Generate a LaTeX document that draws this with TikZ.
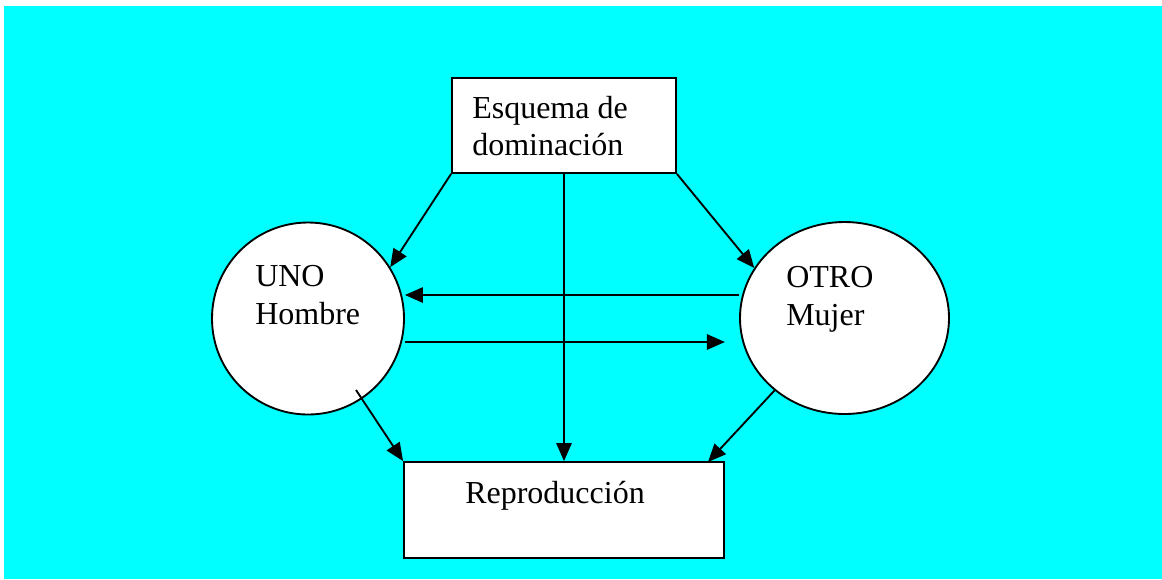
\documentclass[tikz,border=0pt]{standalone}
\usepackage{fontspec}
\setmainfont{Liberation Serif}
\usetikzlibrary{arrows.meta,shapes.geometric}
\definecolor{bgcyan}{RGB}{0,255,255}
\begin{document}
\begin{tikzpicture}[x=0.75pt,y=-0.75pt,
  lw/.style={line width=1.4pt},
  boxnode/.style={draw,lw,fill=white,rectangle,inner sep=0pt},
  circnode/.style={draw,lw,fill=white,ellipse,inner sep=0pt},
  lbl/.style={anchor=base west,inner sep=0pt,font=\fontsize{24}{28}\selectfont},
  arr/.style={lw,-{Triangle[length=13.5pt,width=11.5pt]}},
  conn/.style={lw}]
\useasboundingbox (0,0) rectangle (1162,579);
\fill[bgcyan] (4,6) rectangle (1162,579);
% nodes
\node[boxnode,minimum width=224*0.75pt,minimum height=95*0.75pt] (B1) at (564,125.5) {};
\node[boxnode,minimum width=320*0.75pt,minimum height=96*0.75pt] (B2) at (564,510) {};
\node[circnode,minimum width=192*0.75pt,minimum height=192*0.75pt] (L) at (308,318.5) {};
\node[circnode,minimum width=209*0.75pt,minimum height=192*0.75pt] (R) at (844.5,318) {};
% texts
\node[lbl] (t1) at (472,118) {Esquema de};
\node[lbl] (t2) at (472,155) {dominación};
\node[lbl] (t3) at (255,286) {UNO};
\node[lbl] (t4) at (255,324) {Hombre};
\node[lbl] (t5) at (786,287) {OTRO};
\node[lbl] (t6) at (786,325) {Mujer};
\node[lbl] (t7) at (465,503) {Reproducción};
% helper coordinates
\coordinate (y1) at (0,295);
\coordinate (y2) at (0,342);
\coordinate (s1) at (356,390);
\coordinate (e2) at (708,462);
% connectors
\draw[arr] (B1.south west) -- (L.32);
\draw[arr] (B1.south east) -- (R.151);
\draw[arr] (B1.south) -- (B2.north);
\draw[arr] (R.west |- y1) -- (L.east |- y1);
\draw[arr] (L.east |- y2) -- (B2.east |- y2);
\draw[arr] (s1) -- (B2.north west);
\draw[arr] (R.226) -- (e2);
\end{tikzpicture}
\end{document}
